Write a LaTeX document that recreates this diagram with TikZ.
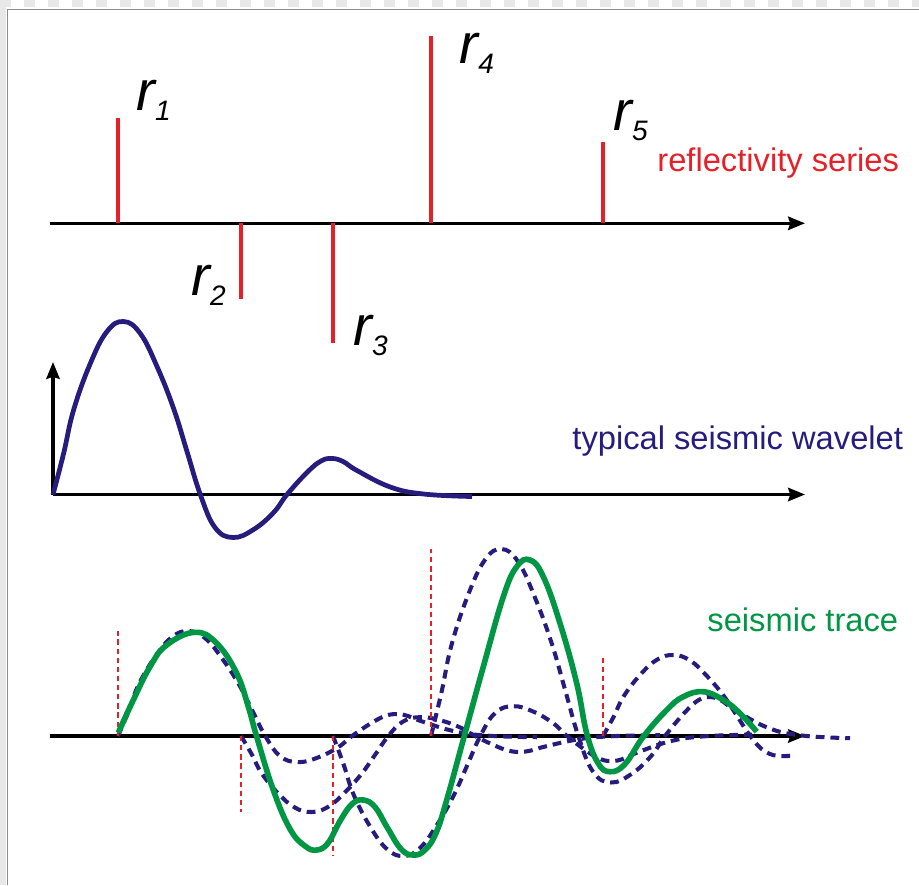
\documentclass[tikz,border=0pt]{standalone}
\usepackage{fontspec}
\setmainfont{Liberation Sans}
\usetikzlibrary{arrows.meta}
\definecolor{sgred}{RGB}{228,32,40}
\definecolor{sgnavy}{RGB}{38,28,125}
\definecolor{sggreen}{RGB}{0,150,68}
\definecolor{sggray}{RGB}{140,140,140}
\definecolor{sgcheck}{RGB}{232,232,232}
% one wavelet, unit peak height 1.73
\newcommand{\waveletpath}{plot[smooth, tension=0.7] coordinates {(0,0) (0.106,0.41) (0.206,0.845) (0.373,1.31) (0.54,1.63) (0.706,1.73) (0.873,1.61) (1.04,1.28) (1.206,0.86) (1.34,0.43) (1.473,0) (1.62,-0.33) (1.80,-0.43) (2.006,-0.35) (2.206,-0.18) (2.34,0) (2.54,0.22) (2.68,0.335) (2.79,0.36) (2.90,0.33) (3.04,0.24) (3.373,0.075) (3.706,0.005) (4.19,-0.02)}}
\newcommand{\rsub}[1]{r\raisebox{-3pt}{\fontsize{8}{8}\selectfont #1}}

\begin{document}
\begin{tikzpicture}[
  timeaxis/.style={line width=0.9pt, -{Stealth[length=4.8pt,width=3.8pt,inset=0.6pt]}},
  spike/.style={sgred, line width=1.15pt},
  spikeguide/.style={sgred, line width=0.65pt, dash pattern=on 1.5pt off 1.1pt},
  wavelet/.style={sgnavy, line width=1.35pt},
  shifted/.style={sgnavy, line width=1.15pt, dash pattern=on 2.5pt off 1.7pt},
  seistrace/.style={sggreen, line width=1.6pt},
  rlabel/.style={anchor=base west, inner sep=0pt, font=\fontsize{16}{16}\selectfont\itshape},
  caption/.style={anchor=base west, inner sep=0pt, font=\fontsize{9.3}{11}\selectfont}]
  \useasboundingbox (0,0) rectangle (9.19,8.85);
  % window frame
  \fill[sgcheck] (0,0) rectangle (0.06,8.85);
  \foreach \i in {0,...,38} {
    \fill[sgcheck] ({0.24*\i},8.78) rectangle ++(0.11,0.07);
  }
  \draw[sggray, line width=0.5pt] (0.075,0) -- (0.075,8.755) -- (9.19,8.755);

  % reflectivity series
  \draw[timeaxis] (0.50,6.617) -- (8.05,6.617);
  \foreach \pos/\amp in {1.18/1.05, 2.41/-0.76, 3.33/-1.20, 4.31/1.87, 6.03/0.81} {
    \draw[spike] (\pos,6.617) -- ++(0,\amp);
  }
  \node[rlabel] (r1) at (1.356,7.75) {\rsub{1}};
  \node[rlabel] (r2) at (1.908,5.90) {\rsub{2}};
  \node[rlabel] (r3) at (3.528,5.40) {\rsub{3}};
  \node[rlabel] (r4) at (4.59,8.217) {\rsub{4}};
  \node[rlabel] (r5) at (6.128,7.55) {\rsub{5}};
  \node[caption, sgred] (refl) at (6.567,7.133) {reflectivity series};

  % typical wavelet
  \draw[timeaxis] (0.53,3.905) -- (8.05,3.905);
  \draw[timeaxis] (0.53,3.905) -- (0.53,5.23);
  \begin{scope}[shift={(0.53,3.905)}]
    \draw[wavelet] \waveletpath;
  \end{scope}
  \node[caption, sgnavy] (wave) at (5.717,4.36) {typical seismic wavelet};

  % seismic trace = sum of scaled wavelets
  \draw[timeaxis] (0.50,1.49) -- (8.05,1.49);
  \foreach \pos/\amp in {1.18/1.05, 2.41/-0.76, 3.33/-1.20, 4.31/1.87} {
    \begin{scope}[shift={(\pos,1.49)}, yscale=\amp/1.73]
      \draw[shifted] \waveletpath;
    \end{scope}
  }
  \begin{scope}
    \clip (6,0) rectangle (7.9,3);
    \begin{scope}[shift={(6.03,1.49)}, yscale=0.81/1.73]
      \draw[shifted] \waveletpath;
    \end{scope}
  \end{scope}
  \foreach \pos/\amp in {1.18/1.05, 2.41/-0.76, 3.33/-1.20, 4.31/1.87, 6.03/0.81} {
    \draw[spikeguide] (\pos,1.49) -- ++(0,\amp);
  }
  \draw[seistrace] plot[smooth, tension=0.7] coordinates {(1.183,1.523) (1.333,1.85) (1.50,2.183) (1.667,2.40) (1.95,2.527) (2.167,2.417) (2.367,2.117) (2.483,1.783) (2.567,1.483) (2.733,0.95) (2.90,0.56) (3.05,0.39) (3.167,0.35) (3.28,0.42) (3.40,0.64) (3.52,0.81) (3.633,0.85) (3.75,0.78) (3.87,0.58) (4.01,0.36) (4.133,0.30) (4.25,0.35) (4.36,0.52) (4.467,0.85) (4.65,1.517) (4.833,2.183) (5.033,2.883) (5.167,3.183) (5.30,3.25) (5.433,3.083) (5.60,2.617) (5.767,2.017) (5.867,1.517) (5.98,1.22) (6.10,1.133) (6.25,1.21) (6.433,1.483) (6.667,1.75) (6.833,1.883) (7.033,1.933) (7.233,1.85) (7.40,1.717) (7.567,1.533)};
  \node[caption, sggreen] (trace) at (7.067,2.533) {seismic trace};
\end{tikzpicture}
\end{document}
